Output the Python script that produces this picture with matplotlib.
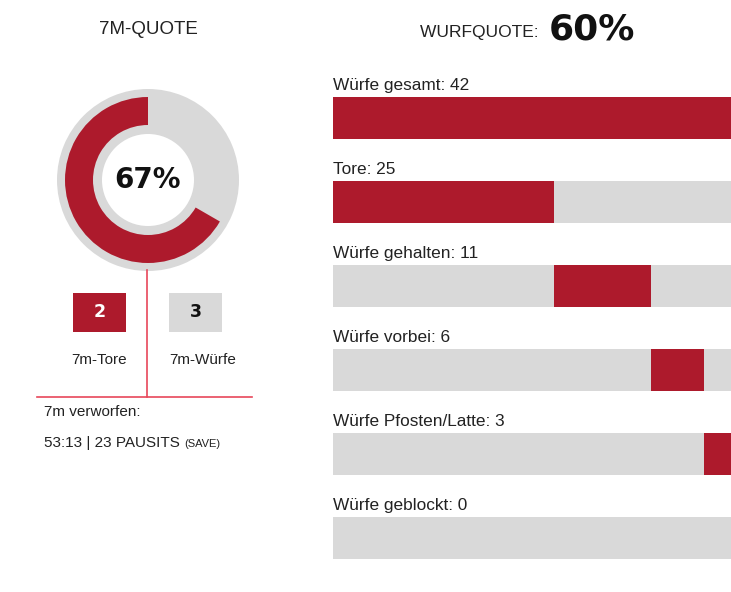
import matplotlib
matplotlib.use('Agg')
import matplotlib.pyplot as plt
import numpy as np

# Daten
bar_labels = ["Würfe gesamt", "Tore", "Würfe gehalten", "Würfe vorbei",
              "Würfe Pfosten/Latte", "Würfe geblockt"]
bar_values = [42, 25, 11, 6, 3, 0]
wurfquote = 60

sieben_tore = 2
sieben_wuerfe = 3
verworfen_text = "53:13 | 23 PAUSITS"

RED = '#ad1a2c'
GRAY = '#d9d9d9'
LINE = '#e8475a'
TXT = '#222222'
NARROW = ['Liberation Sans', 'DejaVu Sans']

W, H = 731, 592
fig = plt.figure(figsize=(W / 100, H / 100), dpi=100)
fig.patch.set_facecolor('white')


def fx(px):
    return px / W


def fy(py):
    return 1 - py / H


# ---- rechte Seite: Balken ----
ax = fig.add_axes([fx(333), fy(580), fx(398), 504 / H])
segments = bar_values[1:]
total = sum(segments)
starts = np.concatenate([[0], np.cumsum(segments)[:-1]])
rows = np.arange(len(bar_labels))

ax.barh(rows, [total] * len(rows), height=0.5, color=GRAY, left=0)
ax.barh(rows[0], total, height=0.5, color=RED)
ax.barh(rows[1:], segments, left=starts, height=0.5, color=RED)
for i, (lab, v) in enumerate(zip(bar_labels, bar_values)):
    ax.text(0, i - 0.3, f"{lab}: {v}", ha='left', va='bottom',
            fontsize=12.4, color=TXT, family=NARROW)
ax.set_xlim(0, total)
ax.set_ylim(len(rows) - 0.5, -0.5)
ax.axis('off')

fig.text(fx(544), fy(32), "WURFQUOTE: ", ha='right', va='center',
         fontsize=12.5, color=TXT, family=NARROW)
fig.text(fx(549), fy(29), f"{wurfquote}%", ha='left', va='center',
         fontsize=26, fontweight='bold', color='#111111')

# ---- linke Seite: 7M-Quote Donut ----
fig.text(fx(148), fy(29), "7M-QUOTE", ha='center', va='center',
         fontsize=13.5, color=TXT, family=NARROW)

dax = fig.add_axes([fx(48), fy(280), fx(200), 200 / H])
dax.pie([1], radius=91, colors=[GRAY], wedgeprops=dict(width=45))
dax.pie([sieben_tore, sieben_wuerfe - sieben_tore], radius=83,
        colors=[RED, 'none'], startangle=90, counterclock=True,
        wedgeprops=dict(width=28))
dax.set_xlim(-100, 100)
dax.set_ylim(-100, 100)
dax.set_aspect('equal')
dax.axis('off')
dax.text(0, 0, f"{round(100 * sieben_tore / sieben_wuerfe)}%", ha='center',
         va='center', fontsize=20, fontweight='bold', color='#111111')

# Linien
fig.add_artist(plt.Line2D([fx(147), fx(147)], [fy(270), fy(397)],
                          color=LINE, lw=1.2))
fig.add_artist(plt.Line2D([fx(37), fx(252)], [fy(397), fy(397)],
                          color=LINE, lw=1.2))

# Kästchen
fig.add_artist(plt.Rectangle((fx(73), fy(332)), fx(53), 39 / H,
                             color=RED, lw=0))
fig.add_artist(plt.Rectangle((fx(169), fy(332)), fx(53), 39 / H,
                             color=GRAY, lw=0))
fig.text(fx(99.5), fy(312), str(sieben_tore), ha='center', va='center',
         fontsize=12.5, fontweight='bold', color='white')
fig.text(fx(195.5), fy(312), str(sieben_wuerfe), ha='center', va='center',
         fontsize=12.5, fontweight='bold', color='#111111')
fig.text(fx(99), fy(360), "7m-Tore", ha='center', va='center',
         fontsize=11, color=TXT, family=NARROW)
fig.text(fx(203), fy(360), "7m-Würfe", ha='center', va='center',
         fontsize=11, color=TXT, family=NARROW)

fig.text(fx(44), fy(412), "7m verworfen:", ha='left', va='center',
         fontsize=11, color=TXT, family=NARROW)
t = fig.text(fx(44), fy(443), verworfen_text + " ", ha='left', va='center',
             fontsize=11, color=TXT, family=NARROW)
fig.canvas.draw()
bb = t.get_window_extent()
fig.text(bb.x1 / W, fy(444), "(SAVE)", ha='left', va='center',
         fontsize=8, color=TXT, family=NARROW)

fig.savefig('out.png', dpi=100, facecolor='white')
